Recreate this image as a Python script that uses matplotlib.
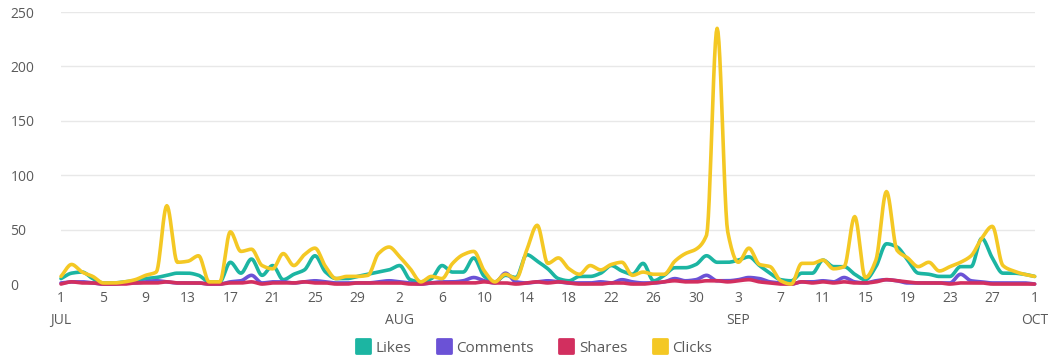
import numpy as np
import pandas as pd
import matplotlib
matplotlib.use("Agg")
import matplotlib.pyplot as plt
import matplotlib.dates as mdates
from matplotlib.lines import Line2D
from matplotlib.markers import MarkerStyle

# daily engagement, Jul 1 .. Oct 1
dates = pd.date_range("2019-07-01", "2019-10-01", freq="D")

likes = [5, 10, 11, 5, 1, 1, 2, 3, 5, 6, 8, 10, 10, 8, 2, 2, 20, 10, 23, 8, 17, 4, 9, 13, 26, 11, 5, 5, 7, 9, 11,
         13, 17, 4, 2, 5, 17, 11, 11, 24, 7, 2, 8, 6, 27, 21, 14, 5, 3, 7, 7, 10, 17, 12, 9, 19, 3, 8, 15, 15, 18, 26,
         20, 20, 22, 25, 17, 10, 4, 3, 10, 10, 22, 16, 16, 9, 4, 16, 37, 34, 22, 10, 9, 7, 7, 16, 16, 42, 24, 10, 10, 9,
         7]
comments = [1, 2, 2, 1, 0, 0, 1, 1, 2, 3, 2, 1, 1, 1, 0, 0, 2, 3, 8, 1, 2, 2, 1, 2, 3, 2, 1, 1, 1, 1, 2,
            3, 2, 1, 0, 1, 2, 2, 3, 6, 3, 1, 10, 2, 1, 2, 3, 2, 1, 1, 1, 2, 1, 4, 2, 1, 1, 2, 5, 3, 4, 8,
            3, 3, 4, 6, 5, 2, 1, 0, 2, 2, 3, 2, 6, 2, 1, 3, 4, 3, 1, 1, 1, 1, 1, 9, 3, 2, 1, 1, 1, 1,
            0]
shares = [0, 2, 1, 1, 0, 0, 0, 1, 1, 1, 2, 1, 1, 1, 0, 0, 1, 1, 2, 0, 1, 1, 1, 2, 1, 1, 0, 0, 1, 1, 1,
          1, 1, 0, 0, 1, 1, 1, 1, 1, 2, 1, 1, 0, 1, 2, 1, 2, 1, 0, 0, 0, 1, 1, 0, 0, 1, 2, 3, 2, 2, 3,
          3, 2, 3, 4, 2, 1, 0, 0, 2, 1, 2, 1, 2, 1, 1, 2, 4, 3, 2, 1, 1, 1, 0, 1, 1, 1, 0, 0, 0, 0,
          0]
clicks = [7, 18, 11, 7, 1, 1, 2, 4, 8, 11, 72, 20, 21, 26, 2, 2, 48, 30, 32, 17, 14, 28, 17, 27, 33, 16, 5, 7, 7, 8, 28,
          34, 25, 14, 2, 7, 5, 19, 27, 30, 12, 2, 9, 5, 31, 54, 19, 24, 14, 9, 17, 13, 18, 20, 8, 11, 9, 9, 21, 28, 32, 45,
          235, 48, 20, 33, 18, 16, 3, 0, 19, 19, 22, 14, 16, 62, 6, 22, 85, 31, 24, 16, 20, 12, 16, 20, 26, 42, 53, 17, 12, 9,
          7]

series = [("Likes", likes, "#1cb5a2"),
          ("Comments", comments, "#6b52d6"),
          ("Shares", shares, "#d22f5f"),
          ("Clicks", clicks, "#f4c824")]


def smooth(x, y, n=12):
    # monotone cubic (Fritsch-Carlson) so the curve never overshoots the points
    x = np.asarray(x, float)
    y = np.asarray(y, float)
    h = np.diff(x)
    d = np.diff(y) / h
    m = np.zeros_like(y)
    m[0], m[-1] = d[0], d[-1]
    for k in range(1, len(y) - 1):
        if d[k - 1] * d[k] > 0:
            w1 = 2 * h[k] + h[k - 1]
            w2 = h[k] + 2 * h[k - 1]
            m[k] = (w1 + w2) / (w1 / d[k - 1] + w2 / d[k])
    xs, ys = [], []
    for k in range(len(y) - 1):
        t = np.linspace(0, 1, n, endpoint=False)
        h00 = 2 * t**3 - 3 * t**2 + 1
        h10 = t**3 - 2 * t**2 + t
        h01 = -2 * t**3 + 3 * t**2
        h11 = t**3 - t**2
        xs.append(x[k] + t * h[k])
        ys.append(h00 * y[k] + h10 * h[k] * m[k] + h01 * y[k + 1] + h11 * h[k] * m[k + 1])
    xs.append([x[-1]])
    ys.append([y[-1]])
    return np.concatenate(xs), np.concatenate(ys)


plt.rcParams["font.family"] = ["Open Sans", "DejaVu Sans"]
txt = "#5a5a5a"

fig = plt.figure(figsize=(10.59, 3.6), dpi=100)
ax = fig.add_axes([0.0576, 0.211, 0.9194, 0.7556])

xnum = mdates.date2num(dates)
for name, vals, col in series:
    sx, sy = smooth(xnum, vals)
    ax.plot(sx, sy, color=col, lw=2.6, solid_capstyle="round", clip_on=False)

ax.set_xlim(xnum[0], xnum[-1])
ax.set_ylim(0, 250)

ax.set_yticks([0, 50, 100, 150, 200, 250])
ax.yaxis.grid(True, color="#e8e8e8", lw=1)
ax.set_axisbelow(True)
ax.tick_params(axis="y", length=0, pad=36.5, labelsize=10, labelcolor=txt)
for lbl in ax.get_yticklabels():
    lbl.set_horizontalalignment("left")

tick_days = dates[::4]
labels = []
prev = None
for d in tick_days:
    if d.month != prev:
        labels.append(f"{d.day}\n{d.strftime('%b').upper()}")
    else:
        labels.append(str(d.day))
    prev = d.month
ax.set_xticks(mdates.date2num(tick_days))
ax.set_xticklabels(labels)
ax.tick_params(axis="x", length=0, pad=5, labelsize=10, labelcolor=txt)
for lbl in ax.get_xticklabels():
    lbl.set_linespacing(1.6)
    lbl.set_verticalalignment("top")

for s in ax.spines.values():
    s.set_visible(False)

handles = [Line2D([], [], ls="", marker=MarkerStyle("s", joinstyle="round"), markersize=10,
                  markeredgewidth=2, color=c, label=n) for n, _, c in series]
fig.legend(handles=handles, loc="center", bbox_to_anchor=(0.504, 0.033), ncol=4, frameon=False,
           fontsize=11, labelcolor=txt, handletextpad=0.35, columnspacing=1.6, handlelength=1.0)

fig.savefig("out.png", dpi=100)
